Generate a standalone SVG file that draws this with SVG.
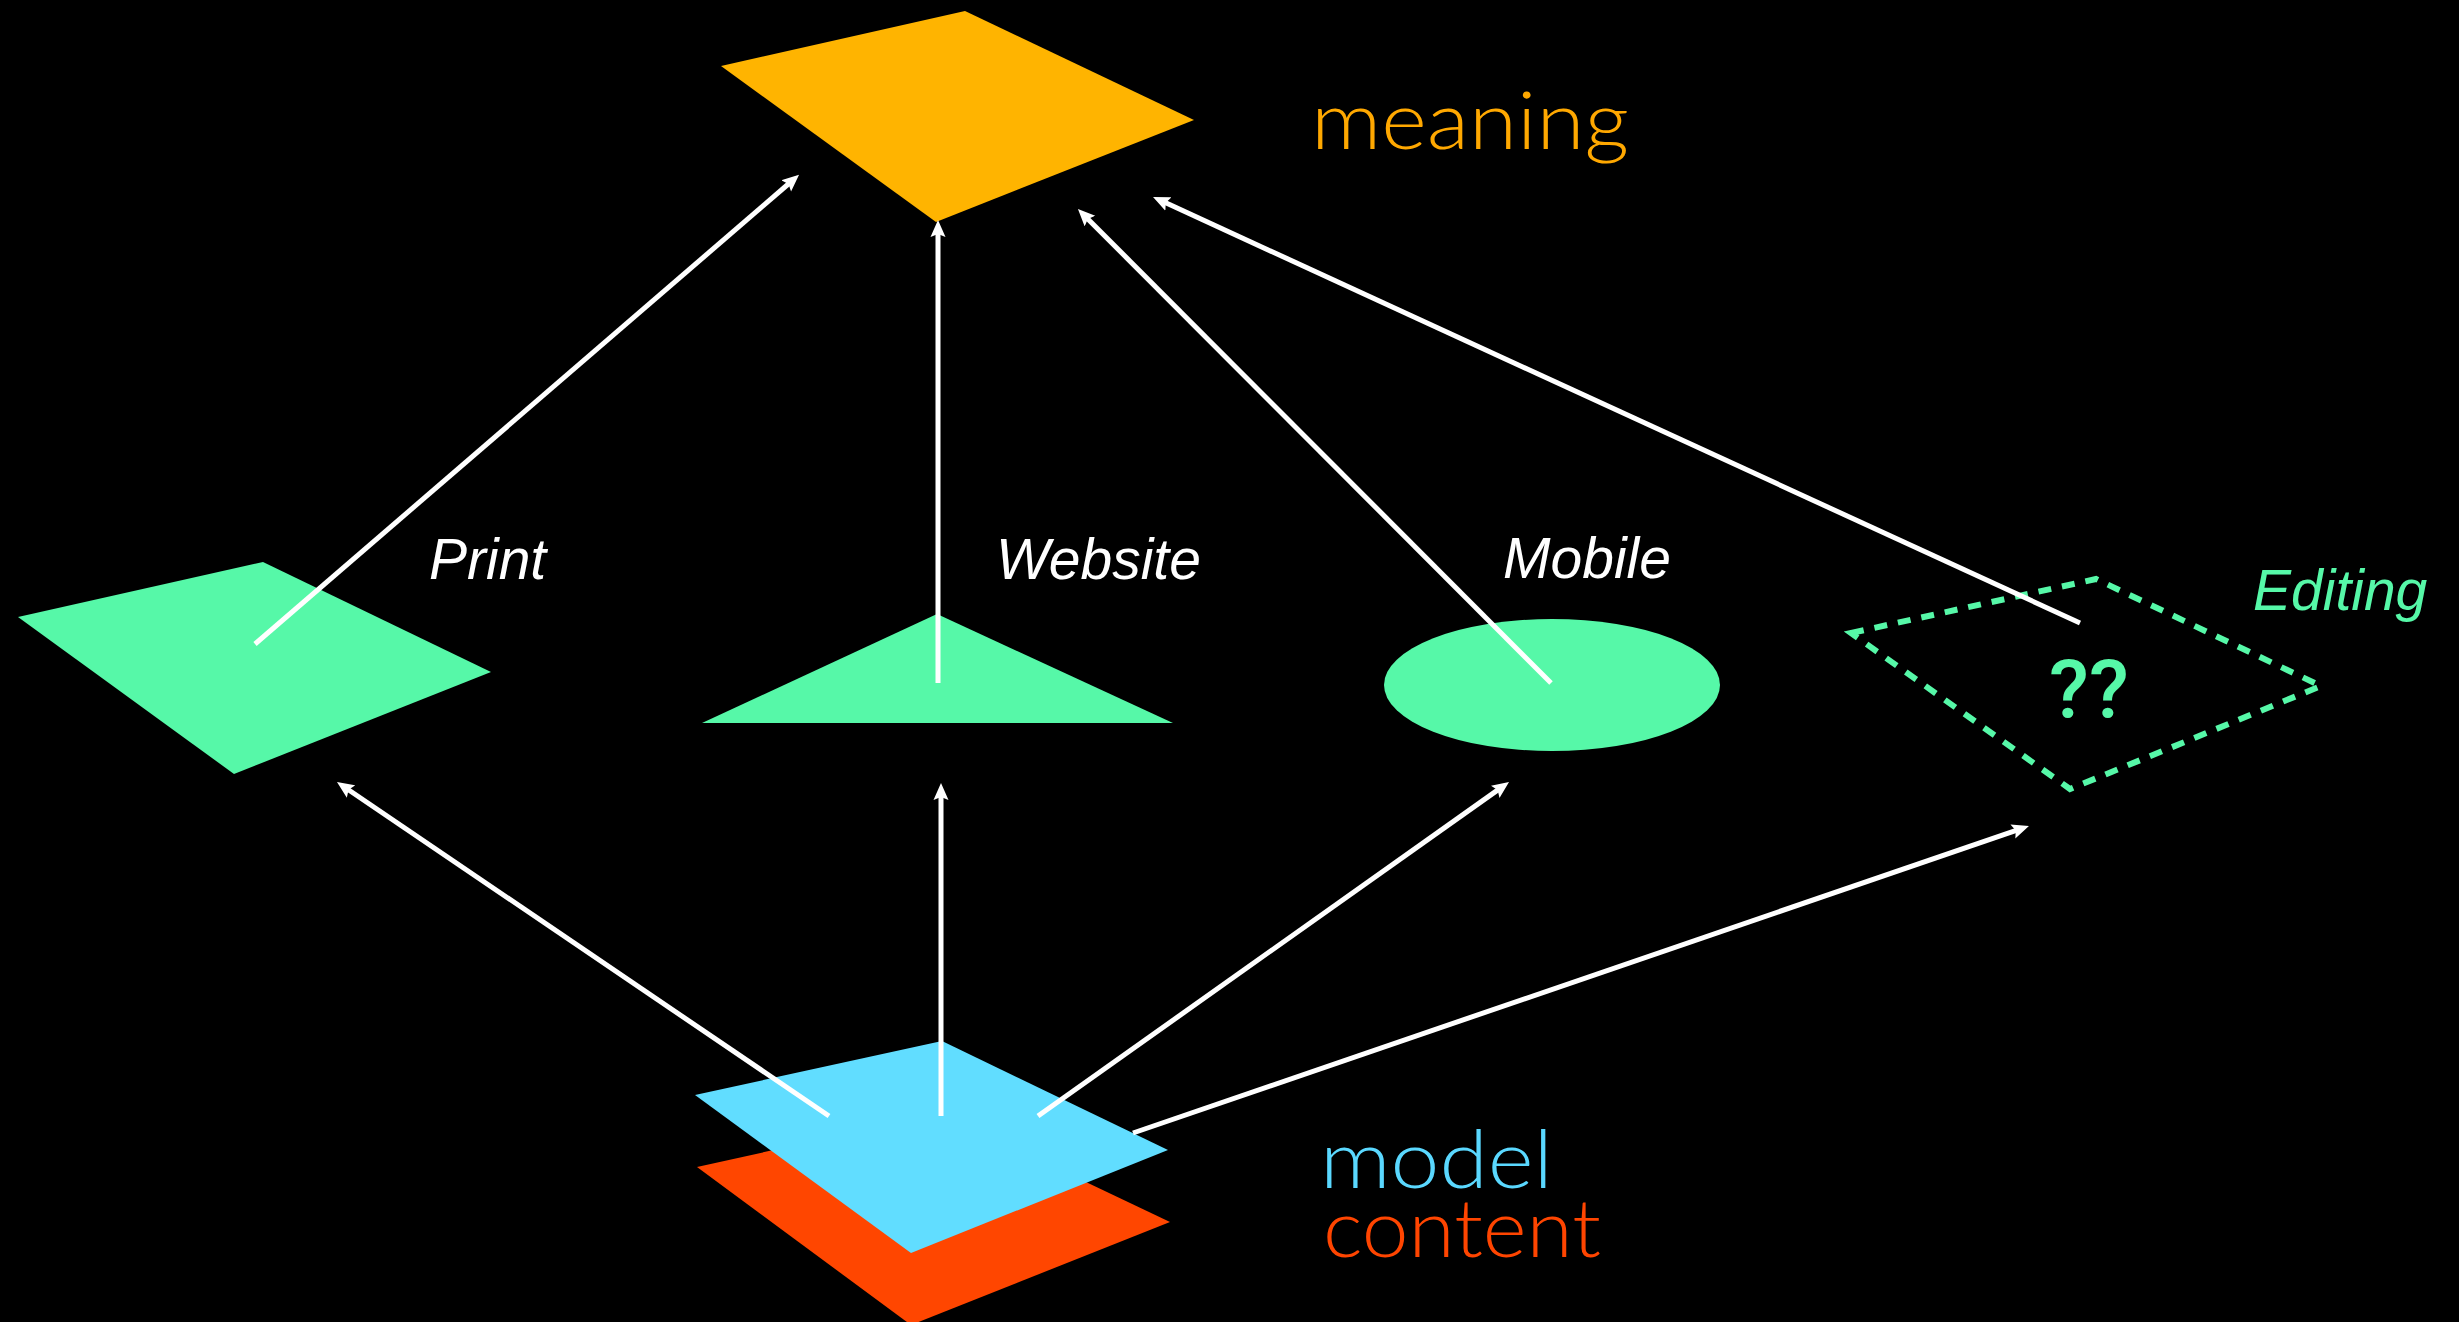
<svg xmlns="http://www.w3.org/2000/svg" width="2459" height="1322" viewBox="0 0 2459 1322">
  <defs>
    <marker id="ah" markerUnits="userSpaceOnUse" markerWidth="17" markerHeight="16" viewBox="0 0 17 16" refX="9" refY="8" orient="auto">
      <path d="M0,0.5 L17,8 L0,15.5 L3,8 z" fill="#ffffff"/>
    </marker>
    <style>
      .lbl { font-family: "Liberation Sans", Arial, sans-serif; font-style: italic; font-size: 57px; fill: #ffffff; }
      .big { font-family: Lato, "Open Sans", sans-serif; font-weight: 300; font-size: 80px; }
      .green { fill: #56F8A8; }
      .conn { stroke: #ffffff; stroke-width: 5; fill: none; marker-end: url(#ah); }
    </style>
  </defs>
  <rect x="0" y="0" width="2459" height="1322" fill="#000000"/>

  <g id="meaning">
    <polygon points="721,66 965,11 1194,120 936,222" fill="#FFB400"/>
    <text class="big" x="1311" y="149" fill="#FFA800" textLength="318" lengthAdjust="spacingAndGlyphs">meaning</text>
  </g>

  <g id="content">
    <polygon points="697,1167 941,1113 1170,1222 911,1325" fill="#FF4600"/>
    <text class="big" x="1323" y="1257" fill="#FF4500" textLength="278" lengthAdjust="spacingAndGlyphs">content</text>
  </g>

  <g id="model">
    <polygon points="695,1095 942,1041 1168,1150 911,1253" fill="#61DDFF"/>
    <text class="big" x="1320" y="1188" fill="#5AD8FF" textLength="233" lengthAdjust="spacingAndGlyphs">model</text>
  </g>

  <g id="print">
    <polygon points="18,617 263,562 491,672 234,774" class="green"/>
    <text class="lbl" x="429" y="579">Print</text>
  </g>

  <g id="website">
    <polygon points="937,614 1173,723 702,723" class="green"/>
    <text class="lbl" x="996" y="579">Website</text>
  </g>

  <g id="mobile">
    <ellipse cx="1552" cy="685" rx="168" ry="66" class="green"/>
    <text class="lbl" x="1503" y="578">Mobile</text>
  </g>

  <g id="editing">
    <polygon points="1851,633 2096,579 2321,686 2070,789" fill="none" stroke="#56F8A8" stroke-width="6" stroke-dasharray="13,11"/>
    <text x="2049" y="718" font-family="Roboto, 'Liberation Sans', sans-serif" font-weight="500" font-size="82" class="green">??</text>
    <text class="lbl" x="2253" y="610" style="fill:#56F8A8">Editing</text>
  </g>

  <g id="connectors">
    <line class="conn" x1="255" y1="644" x2="793" y2="180"/>
    <line class="conn" x1="938" y1="683" x2="938" y2="228"/>
    <line class="conn" x1="1551" y1="683" x2="1083.6" y2="214.7"/>
    <line class="conn" x1="2080" y1="623" x2="1160.3" y2="200.3"/>
    <line class="conn" x1="829" y1="1116" x2="343.6" y2="786.5"/>
    <line class="conn" x1="941" y1="1116" x2="941" y2="791"/>
    <line class="conn" x1="1038" y1="1116" x2="1502.5" y2="786.6"/>
    <line class="conn" x1="1133" y1="1133" x2="2021.4" y2="828.6"/>
  </g>
</svg>
